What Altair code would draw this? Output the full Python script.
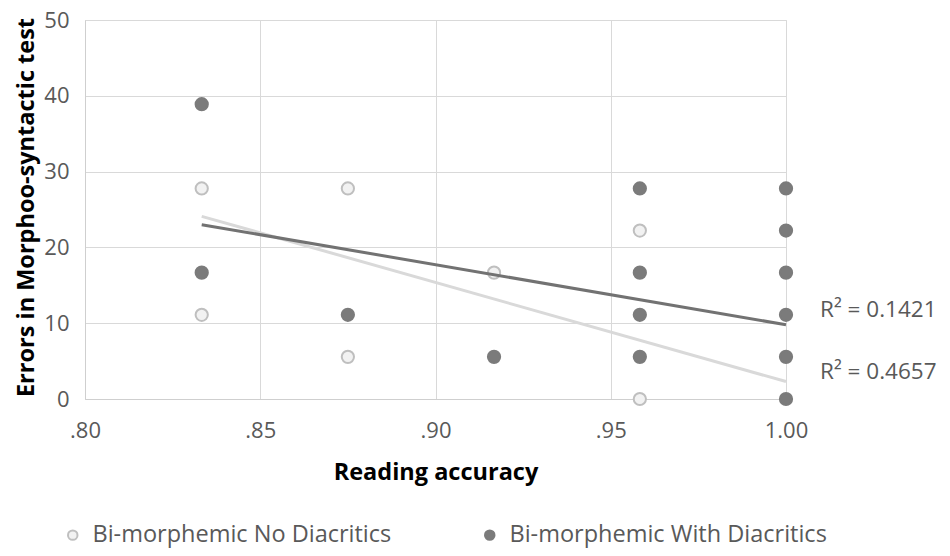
import altair as alt
import pandas as pd

FONT = "Open Sans"

series = ["Bi-morphemic No Diacritics", "Bi-morphemic With Diacritics"]

# Points (x = reading accuracy, y = errors)
no_x = [0.8333, 0.8333, 0.875, 0.875, 0.9167, 0.9583, 0.9583]
no_y = [27.78, 11.11, 27.78, 5.56, 16.67, 22.22, 0.0]
with_x = [0.8333, 0.8333, 0.875, 0.9167, 0.9583, 0.9583, 0.9583, 0.9583,
          1.0, 1.0, 1.0, 1.0, 1.0, 1.0]
with_y = [38.89, 16.67, 11.11, 5.56, 27.78, 16.67, 11.11, 5.56,
          27.78, 22.22, 16.67, 11.11, 5.56, 0.0]

# Linear trend lines (end points)
trend_x = [0.8333, 1.0]
no_trend_y = [24.1, 2.3]
with_trend_y = [23.0, 9.8]

# R² annotations
r2_text = ["R\u00b2 = 0.4657", "R\u00b2 = 0.1421"]
r2_x = [1.0, 1.0]
r2_y = [3.6, 11.7]

x_ticks = [0.80, 0.85, 0.90, 0.95, 1.00]
y_ticks = [0, 10, 20, 30, 40, 50]

pts = pd.DataFrame(
    {"x": no_x + with_x,
     "y": no_y + with_y,
     "series": [series[0]] * len(no_x) + [series[1]] * len(with_x)}
)
trend = pd.DataFrame(
    {"x": trend_x * 2,
     "y": no_trend_y + with_trend_y,
     "series": [series[0]] * 2 + [series[1]] * 2}
)
ann = pd.DataFrame({"x": r2_x, "y": r2_y, "text": r2_text})

xscale = alt.Scale(domain=[0.8, 1.0], nice=False, zero=False)
yscale = alt.Scale(domain=[0, 50], nice=False)

xaxis = alt.Axis(
    values=x_ticks, title="Reading accuracy",
    labelExpr="datum.value >= 1 ? '1.00' : substring(format(datum.value, '.2f'), 1)",
    labelFont=FONT, labelFontSize=22, labelColor="#595959", labelPadding=21,
    titleFont=FONT, titleFontSize=23.5, titleFontWeight="bold", titleColor="#000000",
    titleY=73, titleBaseline="middle",
    ticks=False, tickSize=0, grid=True, gridColor="#d9d9d9", domainColor="#cfcfcf",
    labelFlush=False,
)
yaxis = alt.Axis(
    values=y_ticks, title="Errors in Morphoo-syntactic test",
    labelFont=FONT, labelFontSize=22, labelColor="#595959", labelPadding=16,
    titleFont=FONT, titleFontSize=23.5, titleFontWeight="bold", titleColor="#000000",
    titleX=-59, titleY=187, titleBaseline="middle", titleAngle=-90,
    ticks=False, tickSize=0, grid=True, gridColor="#d9d9d9", domainColor="#cfcfcf",
    labelFlush=False,
)

legend = alt.Legend(
    title=None, orient="none", direction="horizontal", legendX=-24, legendY=503,
    labelFont=FONT, labelFontSize=23.5, labelColor="#595959", labelOffset=8,
    labelLimit=0, symbolSize=90, symbolStrokeWidth=2, columnPadding=86,
    symbolType="circle",
)

points = alt.Chart(pts).mark_circle(size=150, strokeWidth=2, opacity=1).encode(
    x=alt.X("x:Q", scale=xscale, axis=xaxis),
    y=alt.Y("y:Q", scale=yscale, axis=yaxis),
    fill=alt.Fill("series:N", scale=alt.Scale(domain=series, range=["#f2f2f2", "#7b7b7b"]),
                  legend=legend),
    stroke=alt.Stroke("series:N", scale=alt.Scale(domain=series, range=["#bfbfbf", "#7b7b7b"]),
                      legend=legend),
)

lines = alt.Chart(trend).mark_line(strokeWidth=3).encode(
    x=alt.X("x:Q", scale=xscale),
    y=alt.Y("y:Q", scale=yscale),
    color=alt.Color("series:N", scale=alt.Scale(domain=series, range=["#d9d9d9", "#727272"]),
                    legend=None),
    detail="series:N",
)

labels = alt.Chart(ann).mark_text(
    align="left", baseline="middle", font=FONT, fontSize=22.5, color="#595959", dx=34
).encode(
    x=alt.X("x:Q", scale=xscale),
    y=alt.Y("y:Q", scale=yscale),
    text="text:N",
)

chart = alt.layer(points, lines, labels).properties(
    width=701, height=379,
    autosize=alt.AutoSizeParams(type="none"),
    padding={"left": 77, "top": 12, "right": 156, "bottom": 150},
).configure_view(stroke=None).configure(background="white")

chart.save("out.html", embed_options={"renderer": "svg", "actions": False})
